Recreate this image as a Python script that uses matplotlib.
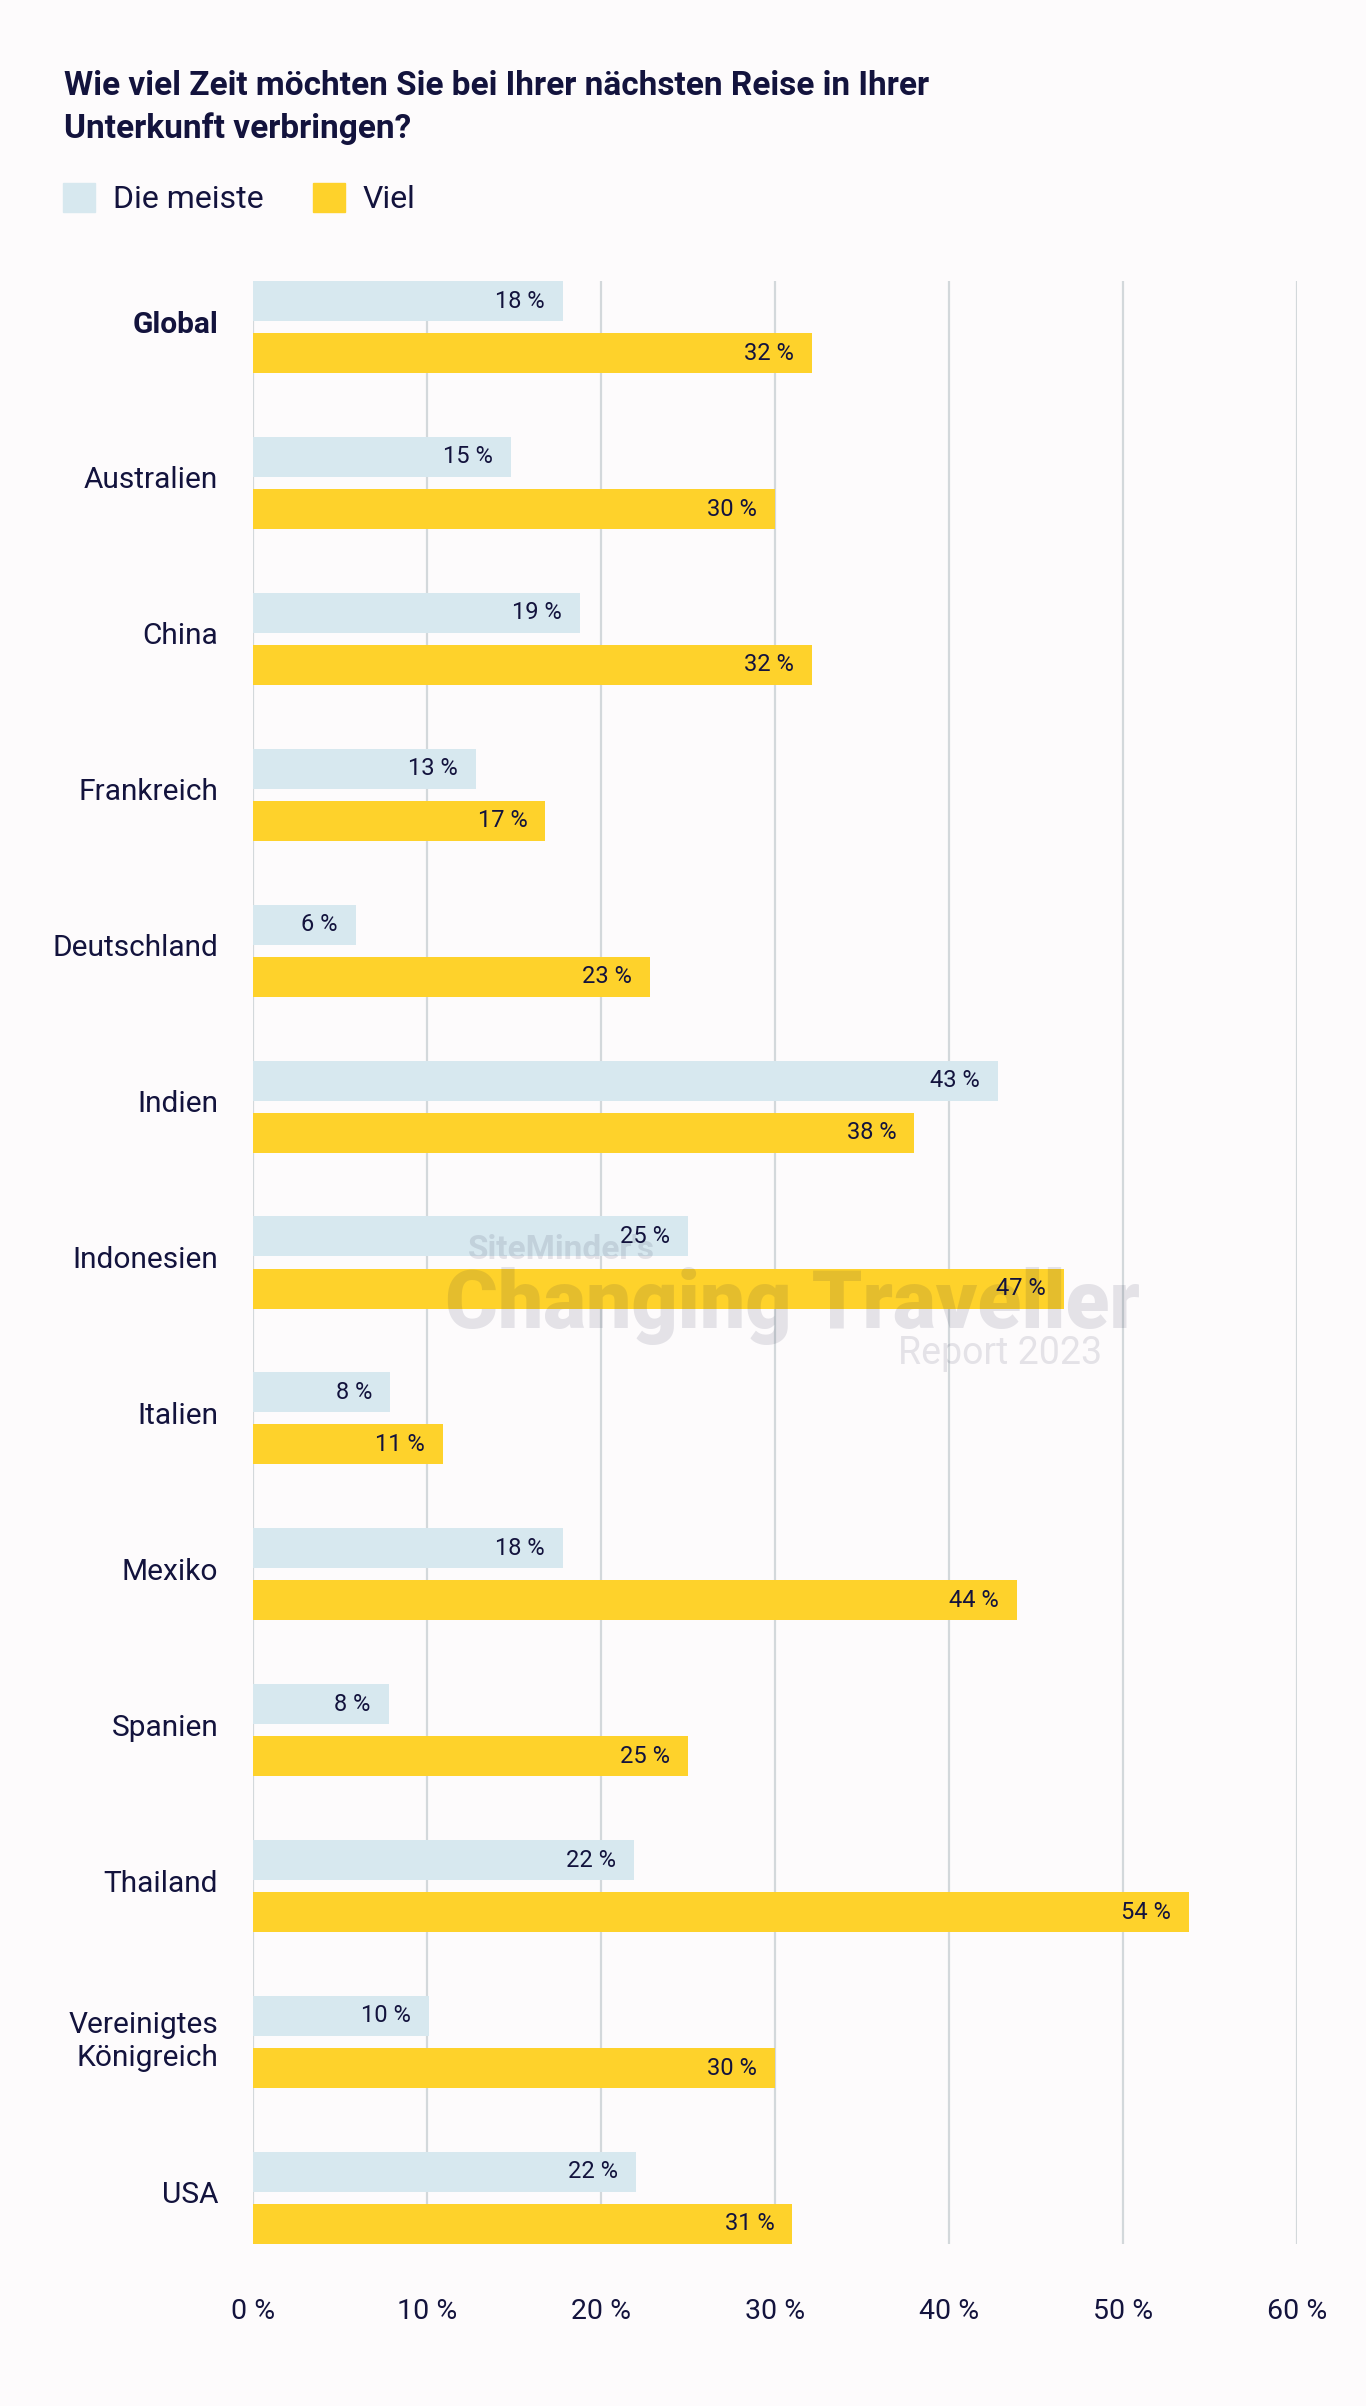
import matplotlib
matplotlib.use("Agg")
import matplotlib.pyplot as plt
import matplotlib.transforms as mtransforms
from matplotlib.patches import Patch

plt.rcParams['font.family'] = ['Roboto', 'DejaVu Sans']

# Daten
laender = ['Global', 'Australien', 'China', 'Frankreich', 'Deutschland', 'Indien',
           'Indonesien', 'Italien', 'Mexiko', 'Spanien', 'Thailand',
           'Vereinigtes\nKönigreich', 'USA']
die_meiste = [17.8, 14.8, 18.8, 12.8, 5.9, 42.8, 25.0, 7.9, 17.8, 7.8, 21.9, 10.1, 22.0]
viel = [32.1, 30.0, 32.1, 16.8, 22.8, 38.0, 46.6, 10.9, 43.9, 25.0, 53.8, 30.0, 31.0]
x_ticks = [0, 10, 20, 30, 40, 50, 60]
x_labels = ['0 %', '10 %', '20 %', '30 %', '40 %', '50 %', '60 %']

hell = '#d7e8ef'
gelb = '#fed22b'
navy = '#13133d'
bg = '#fdfbfc'

fig = plt.figure(figsize=(13.66, 24.06), dpi=100, facecolor=bg)
ax = fig.add_axes([253/1366, 1 - 2244/2406, (1297 - 253)/1366, (2244 - 281)/2406])
ax.set_facecolor(bg)

h = 0.257
off = 0.167
y = list(range(len(laender)))
y1 = [i - off for i in y]
y2 = [i + off for i in y]

ax.barh(y1, die_meiste, height=h, color=hell, zorder=2)
ax.barh(y2, viel, height=h, color=gelb, zorder=2)

# Beschriftung in den Balken
for yy, v in zip(y1, die_meiste):
    ax.annotate(f'{round(v)} %', (v, yy), xytext=(-13, 0), textcoords='offset points',
                ha='right', va='center', fontsize=17, color=navy, zorder=3)
for yy, v in zip(y2, viel):
    ax.annotate(f'{round(v)} %', (v, yy), xytext=(-13, 0), textcoords='offset points',
                ha='right', va='center', fontsize=17, color=navy, zorder=3)

ax.set_xlim(0, 60)
ax.set_ylim(len(laender) - 1 + off + h/2, -off - h/2)
ax.set_xticks(x_ticks)
ax.set_xticklabels(x_labels, fontsize=20.5, color=navy)
ax.set_yticks(y)
ax.set_yticklabels(laender, fontsize=21.5, color=navy, linespacing=1.2)
ax.get_yticklabels()[0].set_fontweight('bold')
ax.tick_params(axis='x', length=0, pad=39)
ax.tick_params(axis='y', length=0, pad=25)
# Laenderbeschriftung etwas nach oben
shift = mtransforms.ScaledTranslation(0, 4/72, fig.dpi_scale_trans)
for lbl in ax.get_yticklabels():
    lbl.set_transform(lbl.get_transform() + shift)
for s in ax.spines.values():
    s.set_visible(False)
ax.grid(axis='x', color='#d3d8db', linewidth=1.6, zorder=0)
ax.set_axisbelow(True)

# Titel
fig.text(64/1366, 1 - 70/2406,
         'Wie viel Zeit möchten Sie bei Ihrer nächsten Reise in Ihrer\nUnterkunft verbringen?',
         ha='left', va='top', fontsize=24, fontweight='bold', color=navy, linespacing=1.4)

# Legende
handles = [Patch(color=hell, label='Die meiste'), Patch(color=gelb, label='Viel')]
leg = fig.legend(handles=handles, loc='upper left', bbox_to_anchor=(63/1366, 1 - 183/2406),
                 ncol=2, frameon=False, fontsize=23, handlelength=1.0, handleheight=1.0,
                 handletextpad=0.55, columnspacing=1.55, borderpad=0, borderaxespad=0)
for t in leg.get_texts():
    t.set_color(navy)

# Wasserzeichen
wm = dict(color='#1a1a40', alpha=0.11, zorder=5)
fig.text(468/1366, 1 - 1250/2406, "SiteMinder's", ha='left', va='center',
         fontsize=24, fontweight='bold', **wm)
fig.text(792/1366, 1 - 1306/2406, 'Changing Traveller', ha='center', va='center',
         fontsize=58, fontweight='heavy', **wm)
fig.text(1102/1366, 1 - 1354/2406, 'Report 2023', ha='right', va='center',
         fontsize=27, **wm)

plt.savefig('out.png', dpi=100, facecolor=bg)
